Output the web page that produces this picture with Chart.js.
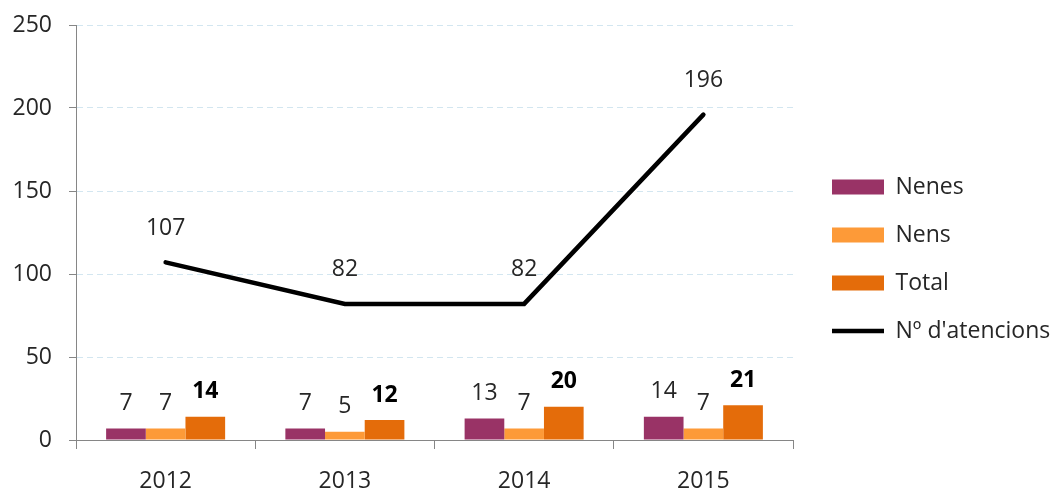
<!DOCTYPE html>
<html>
<head>
<meta charset="utf-8">
<script src="https://cdn.jsdelivr.net/npm/chart.js@4/dist/chart.umd.min.js"></script>
<style>
  html, body { margin: 0; padding: 0; background: #fff; overflow: hidden; }
  canvas { display: block; }
</style>
</head>
<body>
<canvas id="chart" width="1052" height="493"></canvas>
<script>
const years = ['2012', '2013', '2014', '2015'];
const nenes = [7, 7, 13, 14];
const nens = [7, 5, 7, 7];
const total = [14, 12, 20, 21];
const atencions = [107, 82, 82, 196];
const yTicks = [0, 50, 100, 150, 200, 250];

const FONT = '"Open Sans", sans-serif';
const SIZE = 23;
const TEXT = '#262626';
const AXIS = '#868686';

// labels above bars and line points
const valueLabels = {
  id: 'valueLabels',
  afterDatasetsDraw(chart) {
    const ctx = chart.ctx;
    ctx.save();
    ctx.textAlign = 'center';
    ctx.textBaseline = 'middle';
    chart.data.datasets.forEach((ds, i) => {
      const meta = chart.getDatasetMeta(i);
      const isLine = ds.type === 'line';
      ctx.font = (ds.boldLabels ? 'bold ' : '') + SIZE + 'px ' + FONT;
      ctx.fillStyle = ds.boldLabels ? '#000' : TEXT;
      meta.data.forEach((el, j) => {
        ctx.fillText(String(ds.data[j]), el.x, el.y - (isLine ? 34 : 25));
      });
    });
    ctx.restore();
  }
};

new Chart(document.getElementById('chart'), {
  data: {
    labels: years,
    datasets: [
      { type: 'bar', label: 'Nenes', data: nenes, backgroundColor: '#993366', borderWidth: 0, pointStyle: 'rect' },
      { type: 'bar', label: 'Nens', data: nens, backgroundColor: '#fd9a38', borderWidth: 0, pointStyle: 'rect' },
      { type: 'bar', label: 'Total', data: total, backgroundColor: '#e46c0a', borderWidth: 0, pointStyle: 'rect', boldLabels: true },
      { type: 'line', label: "Nº d'atencions", data: atencions, borderColor: '#000', backgroundColor: '#000',
        borderWidth: 4.5, pointRadius: 0, tension: 0, pointStyle: 'line', borderCapStyle: 'round' },
    ],
  },
  options: {
    responsive: false,
    animation: false,
    layout: { padding: { top: 25, left: 0, right: 0, bottom: 0 } },
    datasets: { bar: { categoryPercentage: 0.664, barPercentage: 1 } },
    plugins: {
      tooltip: { enabled: false },
      legend: {
        position: 'right',
        maxWidth: 245,
        labels: {
          usePointStyle: true,
          pointStyleWidth: 52,
          boxWidth: 52,
          boxHeight: 15,
          padding: 25,
          color: TEXT,
          font: { family: FONT, size: SIZE },
        },
      },
    },
    scales: {
      y: {
        min: 0,
        max: 250,
        afterBuildTicks: s => { s.ticks = yTicks.map(v => ({ value: v })); },
        afterFit: s => { s.width = 76; s.paddingTop = 0; s.paddingBottom = 0; },
        ticks: { color: TEXT, font: { family: FONT, size: SIZE }, padding: 17 },
        grid: { color: '#d3e6f0', tickColor: AXIS, tickBorderDash: [], tickLength: 7 },
        border: { color: AXIS, width: 1, dash: [6, 4] },
      },
      x: {
        afterFit: s => { s.height = 53; },
        ticks: { color: TEXT, font: { family: FONT, size: SIZE }, padding: 19 },
        grid: { offset: true, drawOnChartArea: false, color: AXIS, tickLength: 9 },
        border: { color: AXIS, width: 1 },
      },
      yPad: {
        type: 'linear',
        position: 'right',
        grid: { display: false },
        ticks: { display: false },
        border: { display: false },
        afterFit: s => { s.width = 14; },
      },
    },
  },
  plugins: [valueLabels],
});
</script>
</body>
</html>
